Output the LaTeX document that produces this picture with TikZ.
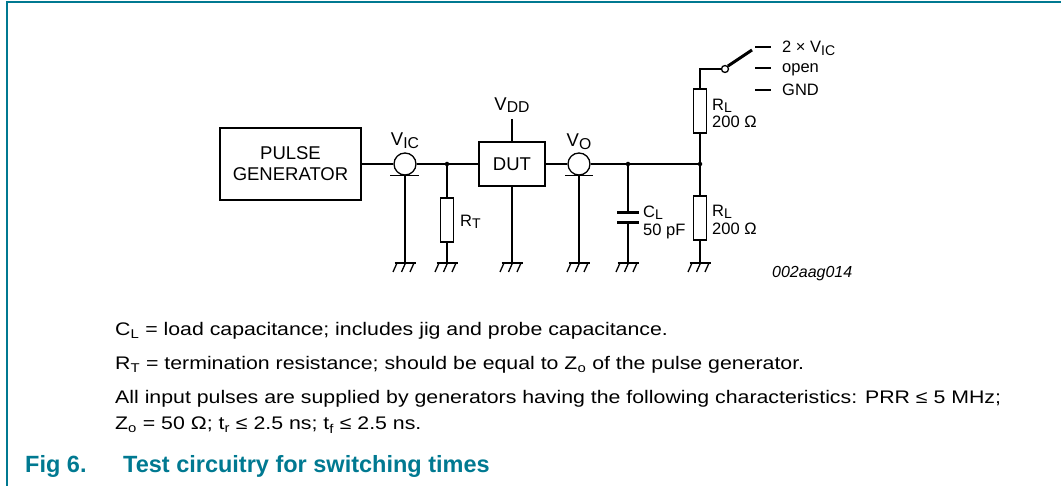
\documentclass[tikz,border=0pt]{standalone}
\usepackage{graphicx}
\usepackage{fontspec}
\setmainfont{Liberation Sans}
\newfontfamily\notefont{Liberation Sans}[FakeStretch=1.17]
\newcommand{\lowsub}[1]{\raisebox{-0.15em}{\scalebox{0.85}{#1}}}
\definecolor{nxpteal}{RGB}{0,121,145}
\tikzset{
  wire/.style={line width=1.3pt},
  blockbox/.style={draw, line width=2.4pt, inner sep=0, align=center, font=\fontsize{18.5}{21}\selectfont},
  resbox/.style={draw, line width=1.3pt, minimum width=13pt, minimum height=44pt, inner sep=0},
  coax/.style={draw, circle, line width=1.3pt, minimum size=22pt, inner sep=0},
  joint/.style={circle, fill, inner sep=0, minimum size=4.5pt},
  biglabel/.style={inner sep=0, font=\fontsize{18.5}{21}\selectfont},
  smalllabel/.style={inner sep=0, anchor=west, font=\fontsize{16.5}{19}\selectfont},
  notetext/.style={inner sep=0, anchor=base west, font=\notefont\fontsize{18.2}{21}\selectfont},
  captext/.style={inner sep=0, anchor=base west, text=nxpteal, font=\fontsize{23.5}{26}\selectfont\bfseries},
  gnd/.pic={
    \draw[wire] (-10.5,0) -- (10.5,0);
    \foreach \dx in {-8,0.5,9} \draw[wire] (\dx,0) -- (\dx-4,9);
  }
}
\begin{document}
\begin{tikzpicture}[x=1pt, y=-1pt]
    \useasboundingbox (0,0) rectangle (1061,486);

    % the frame
    \draw[nxpteal, line width=1.6pt] (7,486) -- (7,2) -- (1061,2);

    % the blocks
    \node[blockbox, minimum width=141pt, minimum height=72pt] (pg) at (290.5,164) {PULSE\\GENERATOR};
    \node[blockbox, minimum width=66pt, minimum height=44pt] (dut) at (512,164) {DUT};

    % the coax connectors and the junctions
    \node[coax] (cin) at (405,164) {};
    \node[coax] (cout) at (579,164) {};
    \node[joint] (j1) at (447,164) {};
    \node[joint] (j2) at (628,164) {};
    \node[joint] (j3) at (700,164) {};

    % resistors and the capacitor
    \node[resbox] (rT) at (447,220) {};
    \node[resbox] (rLa) at (700,111) {};
    \node[resbox] (rLb) at (700,218) {};
    \node[minimum width=21pt, minimum height=9pt, inner sep=0] (cL) at (628,217.5) {};

    % the switch
    \node[draw, circle, fill=white, line width=1.3pt, minimum size=7pt, inner sep=0] (sw) at (725,69) {};
    \coordinate (blade) at (752,50);
    \coordinate (tA) at (755,47);
    \coordinate (tB) at (755,68);
    \coordinate (tC) at (755,90);

    % the grounds and the supply
    \coordinate (g1) at (405,263);
    \coordinate (g2) at (447,263);
    \coordinate (g3) at (512,263);
    \coordinate (g4) at (579,263);
    \coordinate (g5) at (628,263);
    \coordinate (g6) at (700,263);
    \coordinate (vdd) at (512,119);
    \foreach \g in {g1,g2,g3,g4,g5,g6} \pic at (\g) {gnd};

    % the wires
    \draw[wire] (pg.east) -- (cin.west);
    \draw[wire] (cin.east) -- (j1.center) -- (dut.west);
    \draw[wire] (dut.east) -- (cout.west);
    \draw[wire] (cout.east) -- (j2.center) -- (j3.center);
    \draw[wire] ([xshift=-15pt]cin.south) -- ([xshift=14pt]cin.south);
    \draw[wire] ([xshift=-14pt]cout.south) -- ([xshift=14pt]cout.south);
    \draw[wire] (cin.south) -- (g1);
    \draw[wire] (cout.south) -- (g4);
    \draw[wire] (j1.center) -- (rT.north);
    \draw[wire] (rT.south) -- (g2);
    \draw[wire] (vdd) -- (dut.north);
    \draw[wire] (dut.south) -- (g3);
    \draw[wire] (j2.center) -- (cL.north);
    \draw[wire] (cL.south) -- (g5);
    \draw[line width=3pt] (cL.north west) -- (cL.north east);
    \draw[line width=3pt] (cL.south west) -- (cL.south east);
    \draw[wire] (j3.center) -- (rLa.south);
    \draw[wire] (j3.center) -- (rLb.north);
    \draw[wire] (rLb.south) -- (g6);
    \draw[wire] (rLa.north) |- (sw.west);
    \draw[line width=3pt] (sw.north east) -- (blade);
    \draw[wire] (tA) -- ++(16,0);
    \draw[wire] (tB) -- ++(16,0);
    \draw[wire] (tC) -- ++(16,0);

    % the labels
    \node[biglabel, anchor=south] (lvdd) at (512,113) {V\lowsub{DD}};
    \node[biglabel] (lvic) at (405,141) {V\lowsub{IC}};
    \node[biglabel] (lvo) at (579,142) {V\lowsub{O}};
    \node[smalllabel] (lrt) at (460,222) {R\lowsub{T}};
    \node[smalllabel] (lcl) at (643,213) {C\lowsub{L}};
    \node[smalllabel] (lclv) at (643,231) {50 pF};
    \node[smalllabel] (lrla) at (712,106) {R\lowsub{L}};
    \node[smalllabel] (lrlav) at (712,122) {200 Ω};
    \node[smalllabel] (lrlb) at (712,212) {R\lowsub{L}};
    \node[smalllabel] (lrlbv) at (712,229) {200 Ω};
    \node[smalllabel, anchor=base west] (lsa) at (782,53) {2 × V\lowsub{IC}};
    \node[smalllabel, anchor=base west] (lsb) at (782,73) {open};
    \node[smalllabel, anchor=base west] (lsc) at (782,96) {GND};
    \node[inner sep=0, anchor=base west, font=\fontsize{16}{18}\selectfont\itshape] (code) at (772,278) {002aag014};

    % the notes
    \node[notetext] (n1) at (115,336) {C\textsubscript{L} = load capacitance; includes jig and probe capacitance.};
    \node[notetext] (n2) at (115,370) {R\textsubscript{T} = termination resistance; should be equal to Z\textsubscript{o} of the pulse generator.};
    \node[notetext] (n3) at (115,403) {All input pulses are supplied by generators having the following characteristics: PRR ≤ 5 MHz;};
    \node[notetext] (n4) at (115,430) {Z\textsubscript{o} = 50 Ω; t\textsubscript{r} ≤ 2.5 ns; t\textsubscript{f} ≤ 2.5 ns.};

    % the caption
    \node[captext] (fig) at (25,472) {Fig 6.};
    \node[captext] (cap) at (123,472) {Test circuitry for switching times};

\end{tikzpicture}
\end{document}
